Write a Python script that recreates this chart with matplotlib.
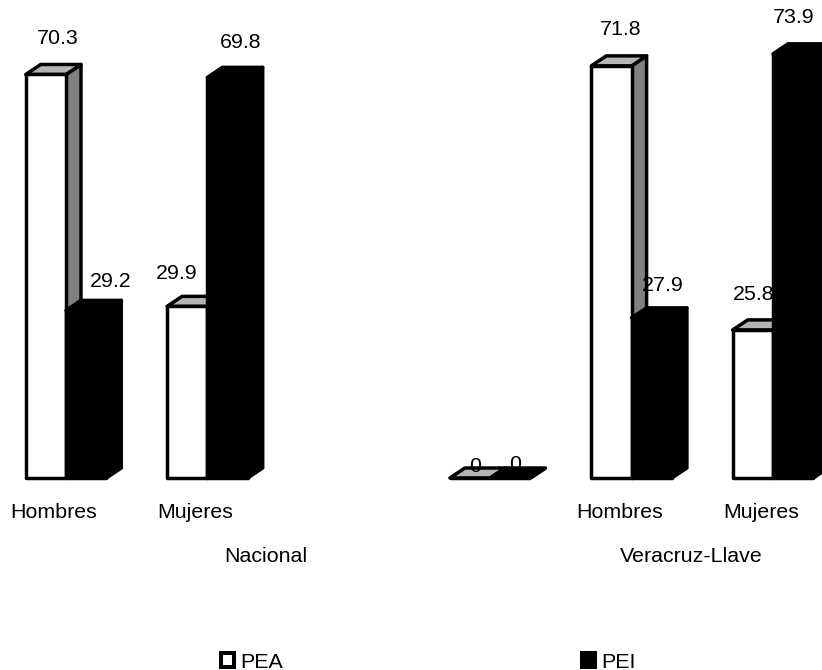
import numpy as np
import matplotlib
matplotlib.use("Agg")
import matplotlib.pyplot as plt
from matplotlib.patches import Patch

plt.rcParams["font.family"] = ["Liberation Sans", "DejaVu Sans"]

categories = ["Hombres", "Mujeres", "", "", "Hombres", "Mujeres"]
pea = [70.3, 29.9, np.nan, 0, 71.8, 25.8]
pei = [29.2, 69.8, np.nan, 0, 27.9, 73.9]
group_names = ["Nacional", "Veracruz-Llave"]
group_pos = [1.41, 4.42]
series_names = ["PEA", "PEI"]

# label offsets from top centre of the bar front, in pixels
pea_offsets = [(12, 36), (-11, 33), None, (5, 12), (9, 36), (1, 35)]
pei_offsets = [(25, 29), (13, 35), None, (5, 14), (11, 32), (1, 36)]

W, H = 822, 670
X0, DX = 66, 141.4      # px of first category, px per category
Y0, DY = 478, 5.74      # px of baseline from top, px per percent
bar_w = 0.285
depth_x = 15 / DX
depth_y = 10 / DY
lw = 2.5


def draw_bar(ax, left, value, face, top, side, z):
    right = left + bar_w
    ax.bar(left, value, bar_w, align="edge", facecolor=face, edgecolor="black",
           linewidth=lw, zorder=z + 0.2, joinstyle="round")
    top_pts = [(left, value), (left + depth_x, value + depth_y),
               (right + depth_x, value + depth_y), (right, value)]
    side_pts = [(right, 0), (right + depth_x, depth_y),
                (right + depth_x, value + depth_y), (right, value)]
    ax.fill(*zip(*side_pts), facecolor=side, edgecolor="black", linewidth=lw,
            zorder=z, joinstyle="round")
    ax.fill(*zip(*top_pts), facecolor=top, edgecolor="black", linewidth=lw,
            zorder=z + 0.1, joinstyle="round")


fig = plt.figure(figsize=(W / 100, H / 100), dpi=100)
ax = fig.add_axes([0, 0, 1, 1])
ax.set_xlim(-X0 / DX, (W - X0) / DX)
ax.set_ylim(-(H - Y0) / DY, Y0 / DY)
ax.axis("off")

fs = 15.4
for i, cat in enumerate(categories):
    z = 2 + i
    if not np.isnan(pea[i]):
        draw_bar(ax, i - bar_w, pea[i], "white", "#b4b4b4", "#808080", z)
        draw_bar(ax, i, pei[i], "black", "black", "black", z + 0.4)
        ax.annotate(f"{pea[i]:g}", (i - bar_w / 2, pea[i]), xytext=pea_offsets[i],
                    textcoords="offset pixels", ha="center", va="center",
                    fontsize=fs, zorder=20, annotation_clip=False)
        ax.annotate(f"{pei[i]:g}", (i + bar_w / 2, pei[i]), xytext=pei_offsets[i],
                    textcoords="offset pixels", ha="center", va="center",
                    fontsize=fs, zorder=20, annotation_clip=False)
    if cat:
        ax.annotate(cat, (i, 0), xytext=(-12, -35), textcoords="offset pixels",
                    ha="center", va="center", fontsize=fs)

for name, pos in zip(group_names, group_pos):
    ax.annotate(name, (pos, 0), xytext=(0, -79), textcoords="offset pixels",
                ha="center", va="center", fontsize=fs)

handles = [Patch(facecolor="white", edgecolor="black", linewidth=lw + 0.4),
           Patch(facecolor="black", edgecolor="black", linewidth=lw + 0.4)]
fig.legend(handles, series_names, ncol=2, loc="center left",
           bbox_to_anchor=(221 / W, 1 - 662 / H), frameon=False, fontsize=fs,
           handlelength=0.62, handleheight=0.62, handletextpad=0.3,
           columnspacing=13.96, borderpad=0, borderaxespad=0)

fig.savefig("out.png", dpi=100)
plt.close(fig)
